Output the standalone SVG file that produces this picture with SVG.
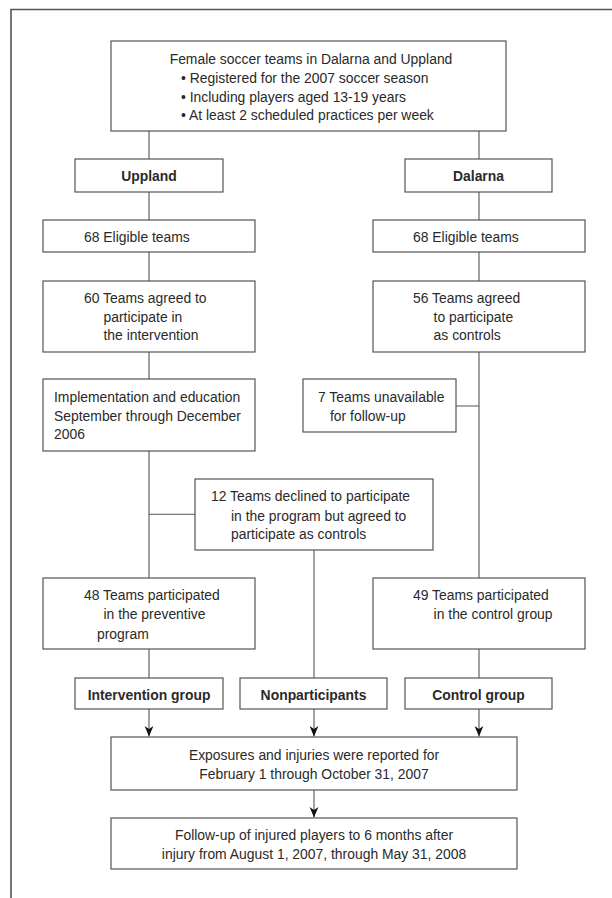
<svg xmlns="http://www.w3.org/2000/svg" width="612" height="898" viewBox="0 0 612 898">
<style>
.b{fill:#fff;stroke:#555;stroke-width:1.2}
.t{font-family:"Liberation Sans",Arial,sans-serif;font-size:15px;fill:#2a2a2a}
.bd{font-weight:bold}
.m{text-anchor:middle}
.c{fill:none;stroke:#555;stroke-width:1.1}
.f{fill:none;stroke:#555;stroke-width:1.6}
</style>
<defs>
<marker id="ah" markerUnits="userSpaceOnUse" markerWidth="12" markerHeight="10" refX="11" refY="5" orient="auto" viewBox="0 0 12 10">
<path d="M11,5 L0.5,0.6 L3.5,5 L0.5,9.4 Z" fill="#111"/>
</marker>
</defs>
<rect width="612" height="898" fill="#fff"/>
<path class="f" d="M11,898 V9.5 H612"/>
<g id="connectors">
<path class="c" d="M149,131 V159 M149,192 V220 M149,252 V281 M149,352 V379 M149,451 V578 M149,514.3 H195 M149,649 V678"/>
<path class="c" d="M479,131 V159 M479,192 V220 M479,252 V281 M479,352 V578 M456,406 H479 M479,649 V678"/>
<path class="c" d="M314,550 V678"/>
<path class="c" d="M149,709 V736.5" marker-end="url(#ah)"/>
<path class="c" d="M314,709 V736.5" marker-end="url(#ah)"/>
<path class="c" d="M479,709 V736.5" marker-end="url(#ah)"/>
<path class="c" d="M314,790 V817.5" marker-end="url(#ah)"/>
</g>
<g id="n-top">
<rect class="b" x="111" y="41" width="395" height="90"/>
<text class="t m" transform="translate(311,64) scale(0.927 1)">Female soccer teams in Dalarna and Uppland</text>
<text class="t" transform="translate(181,83) scale(0.927 1)">• Registered for the 2007 soccer season</text>
<text class="t" transform="translate(181,102) scale(0.927 1)">• Including players aged 13-19 years</text>
<text class="t" transform="translate(181,120) scale(0.927 1)">• At least 2 scheduled practices per week</text>
</g>
<g id="n-uppland">
<rect class="b" x="75" y="159" width="148" height="33"/>
<text class="t bd m" transform="translate(149,181) scale(0.927 1)">Uppland</text>
</g>
<g id="n-dalarna">
<rect class="b" x="405" y="159" width="147" height="33"/>
<text class="t bd m" transform="translate(478.5,181) scale(0.927 1)">Dalarna</text>
</g>
<g id="n-eligible-u">
<rect class="b" x="43" y="220" width="212" height="32"/>
<text class="t" transform="translate(84,241.5) scale(0.927 1)">68 Eligible teams</text>
</g>
<g id="n-eligible-d">
<rect class="b" x="373" y="220" width="212" height="32"/>
<text class="t" transform="translate(413,241.5) scale(0.927 1)">68 Eligible teams</text>
</g>
<g id="n-agreed-u">
<rect class="b" x="43" y="281" width="212" height="71"/>
<text class="t" transform="translate(84,303.3) scale(0.927 1)">60 Teams agreed to</text>
<text class="t" transform="translate(103.5,321.7) scale(0.927 1)">participate in</text>
<text class="t" transform="translate(103.5,340.3) scale(0.927 1)">the intervention</text>
</g>
<g id="n-agreed-d">
<rect class="b" x="373" y="281" width="212" height="71"/>
<text class="t" transform="translate(413,303.3) scale(0.927 1)">56 Teams agreed</text>
<text class="t" transform="translate(433.6,321.7) scale(0.927 1)">to participate</text>
<text class="t" transform="translate(433.6,340.3) scale(0.927 1)">as controls</text>
</g>
<g id="n-implementation">
<rect class="b" x="43" y="379" width="212" height="72"/>
<text class="t" transform="translate(54,401.7) scale(0.927 1)">Implementation and education</text>
<text class="t" transform="translate(54,420.7) scale(0.927 1)">September through December</text>
<text class="t" transform="translate(54,439.3) scale(0.927 1)">2006</text>
</g>
<g id="n-unavailable">
<rect class="b" x="303" y="379" width="153" height="53"/>
<text class="t" transform="translate(318,401.7) scale(0.927 1)">7 Teams unavailable</text>
<text class="t" transform="translate(330,420.7) scale(0.927 1)">for follow-up</text>
</g>
<g id="n-declined">
<rect class="b" x="195" y="479" width="238" height="71"/>
<text class="t" transform="translate(211,501) scale(0.927 1)">12 Teams declined to participate</text>
<text class="t" transform="translate(231,520.7) scale(0.927 1)">in the program but agreed to</text>
<text class="t" transform="translate(231,539.3) scale(0.927 1)">participate as controls</text>
</g>
<g id="n-participated-u">
<rect class="b" x="43" y="578" width="212" height="71"/>
<text class="t" transform="translate(84,600) scale(0.927 1)">48 Teams participated</text>
<text class="t" transform="translate(103.5,619) scale(0.927 1)">in the preventive</text>
<text class="t" transform="translate(97,639) scale(0.927 1)">program</text>
</g>
<g id="n-participated-d">
<rect class="b" x="373" y="578" width="212" height="71"/>
<text class="t" transform="translate(413,600) scale(0.927 1)">49 Teams participated</text>
<text class="t" transform="translate(433.6,619) scale(0.927 1)">in the control group</text>
</g>
<g id="n-intervention">
<rect class="b" x="75" y="678" width="148" height="31"/>
<text class="t bd m" transform="translate(149,699.5) scale(0.927 1)">Intervention group</text>
</g>
<g id="n-nonparticipants">
<rect class="b" x="240" y="678" width="147" height="31"/>
<text class="t bd m" transform="translate(313.5,699.5) scale(0.927 1)">Nonparticipants</text>
</g>
<g id="n-control">
<rect class="b" x="405" y="678" width="147" height="31"/>
<text class="t bd m" transform="translate(478.5,699.5) scale(0.927 1)">Control group</text>
</g>
<g id="n-exposures">
<rect class="b" x="111" y="737" width="406" height="53"/>
<text class="t m" transform="translate(314,760) scale(0.927 1)">Exposures and injuries were reported for</text>
<text class="t m" transform="translate(314,778.5) scale(0.927 1)">February 1 through October 31, 2007</text>
</g>
<g id="n-followup">
<rect class="b" x="111" y="818" width="406" height="51"/>
<text class="t m" transform="translate(314,840) scale(0.927 1)">Follow-up of injured players to 6 months after</text>
<text class="t m" transform="translate(314,859) scale(0.927 1)">injury from August 1, 2007, through May 31, 2008</text>
</g>
</svg>
